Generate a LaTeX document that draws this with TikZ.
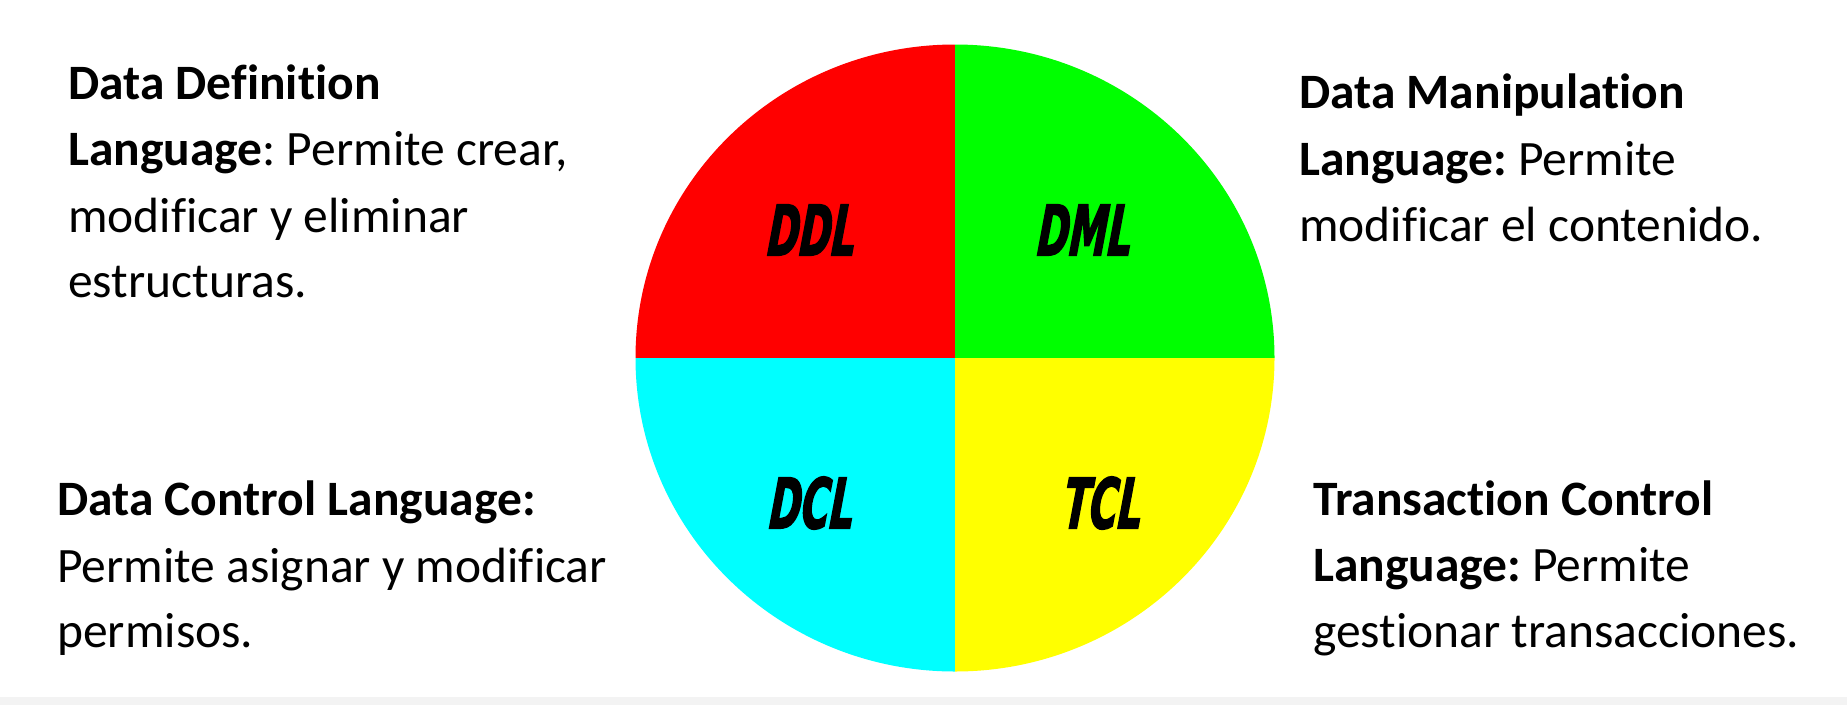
\documentclass[tikz,border=0pt]{standalone}
\usepackage{fontspec}
\setmainfont{Carlito}[Ligatures=NoCommon]
\newfontfamily\quadfont{DejaVu Sans}[FakeStretch=0.55,FakeBold=2,FakeSlant=0.08]
\definecolor{qred}{HTML}{FF0000}
\definecolor{qgreen}{HTML}{00FF00}
\definecolor{qcyan}{HTML}{00FFFF}
\definecolor{qyellow}{HTML}{FFFF00}
\definecolor{bandgray}{HTML}{F3F3F3}
\tikzset{
  txt/.style={anchor=base west, inner sep=0pt, font=\frenchspacing\fontsize{49.5}{58}\selectfont, text=black},
  quadlabel/.style={anchor=center, inner sep=0pt, font=\quadfont\bfseries\itshape\fontsize{70}{70}\selectfont, text=black}
}
\begin{document}
\begin{tikzpicture}[x=1pt,y=-1pt]
\useasboundingbox (0,0) rectangle (1847,705);
\fill[white] (0,0) rectangle (1847,705);
\fill[bandgray] (0,697) rectangle (1847,705);
\begin{scope}
  \clip (955,358) ellipse [x radius=319.5, y radius=313.5];
  \fill[qred] (600,20) rectangle (955,358);
  \fill[qgreen] (955,20) rectangle (1300,358);
  \fill[qcyan] (600,358) rectangle (955,700);
  \fill[qyellow] (955,358) rectangle (1300,700);
\end{scope}
\node[quadlabel] (ddl) at (811,230) {DDL};
\node[quadlabel] (dml) at (1084,230) {DML};
\node[quadlabel] (dcl) at (811,503) {DCL};
\node[quadlabel] (tcl) at (1102,503) {TCL};
% top left
\node[txt] (tl1) at (68,99) {\textbf{Data Definition}};
\node[txt] (tl2) at (68,165) {\textbf{Language}: Permite crear,};
\node[txt] (tl3) at (68,232) {modificar y eliminar};
\node[txt] (tl4) at (68,297) {estructuras.};
% top right
\node[txt] (tr1) at (1299,108) {\textbf{Data Manipulation}};
\node[txt] (tr2) at (1299,175) {\textbf{Language:} Permite};
\node[txt] (tr3) at (1299,241) {modificar el contenido.};
% bottom left
\node[txt] (bl1) at (57,515) {\textbf{Data Control Language:}};
\node[txt] (bl2) at (57,582) {Permite asignar y modificar};
\node[txt] (bl3) at (57,647) {permisos.};
% bottom right
\node[txt] (br1) at (1313,515) {\textbf{Transaction Control}};
\node[txt] (br2) at (1313,581) {\textbf{Language:} Permite};
\node[txt] (br3) at (1313,647) {gestionar transacciones.};
\end{tikzpicture}
\end{document}
